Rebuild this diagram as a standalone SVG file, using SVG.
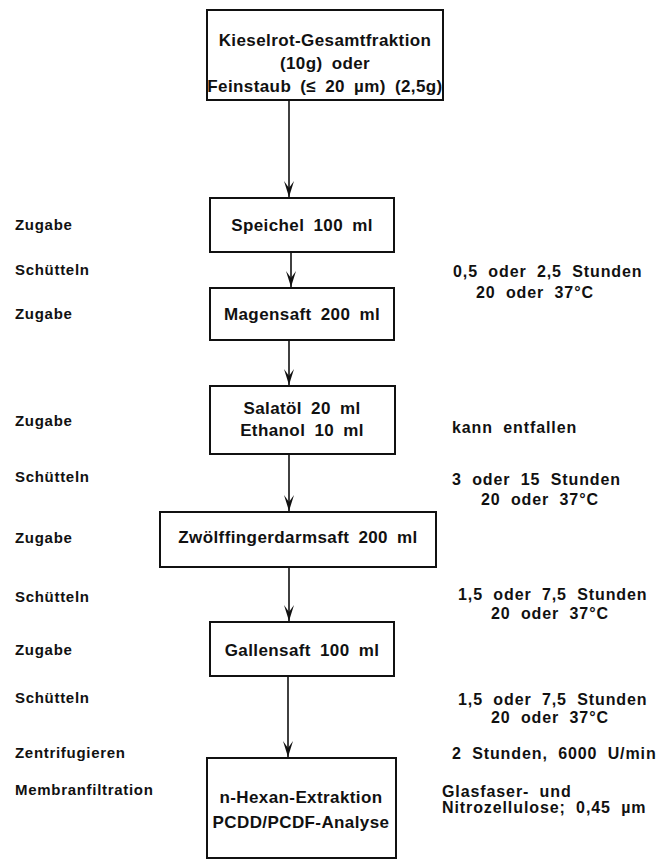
<svg xmlns="http://www.w3.org/2000/svg" width="667" height="861" viewBox="0 0 667 861">
<style>
  text { font-family: "Liberation Sans", Arial, sans-serif; font-weight: bold; fill: #111; }
  .lbl { font-size: 15px; letter-spacing: 0.7px; }
  .rt { font-size: 16px; letter-spacing: 0.9px; word-spacing: 5px; }
  .bx { font-size: 17px; letter-spacing: 0.4px; word-spacing: 4px; text-anchor: middle; }
  .box { fill: #fff; stroke: #111; stroke-width: 2; }
  .conn line { stroke: #111; stroke-width: 1.6; }
</style>
<defs>
  <marker id="ah" viewBox="-17 -6 18 12" refX="0" refY="0" markerWidth="18" markerHeight="12" markerUnits="userSpaceOnUse" orient="auto">
    <path d="M-16,-5 L0,0 L-16,5 L-9,0 Z" fill="#111"/>
  </marker>
</defs>
<rect width="667" height="861" fill="#fff"/>

<g id="n1">
  <rect class="box" x="207" y="10" width="236" height="90"/>
  <text class="bx" x="325" y="46">Kieselrot-Gesamtfraktion</text>
  <text class="bx" x="325" y="69">(10g) oder</text>
  <text class="bx" x="325" y="92">Feinstaub (≤ 20 µm) (2,5g)</text>
</g>
<g id="n2">
  <rect class="box" x="210" y="198" width="184" height="54"/>
  <text class="bx" x="302" y="231">Speichel 100 ml</text>
</g>
<g id="n3">
  <rect class="box" x="210" y="288" width="184" height="52"/>
  <text class="bx" x="302" y="320">Magensaft 200 ml</text>
</g>
<g id="n4">
  <rect class="box" x="210" y="386" width="185" height="68"/>
  <text class="bx" x="302" y="414">Salatöl 20 ml</text>
  <text class="bx" x="302" y="436">Ethanol 10 ml</text>
</g>
<g id="n5">
  <rect class="box" x="160" y="512" width="276" height="55"/>
  <text class="bx" x="298" y="543">Zwölffingerdarmsaft 200 ml</text>
</g>
<g id="n6">
  <rect class="box" x="210" y="622" width="184" height="54"/>
  <text class="bx" x="302" y="656">Gallensaft 100 ml</text>
</g>
<g id="n7">
  <rect class="box" x="207" y="758" width="189" height="100"/>
  <text class="bx" x="301" y="803">n-Hexan-Extraktion</text>
  <text class="bx" x="301" y="828">PCDD/PCDF-Analyse</text>
</g>

<g class="conn">
  <line x1="289" y1="100" x2="289" y2="197" marker-end="url(#ah)"/>
  <line x1="291" y1="252" x2="291" y2="287" marker-end="url(#ah)"/>
  <line x1="289" y1="340" x2="289" y2="385" marker-end="url(#ah)"/>
  <line x1="289" y1="454" x2="289" y2="511" marker-end="url(#ah)"/>
  <line x1="289" y1="567" x2="289" y2="621" marker-end="url(#ah)"/>
  <line x1="288" y1="676" x2="288" y2="757" marker-end="url(#ah)"/>
</g>

<g id="left">
  <text class="lbl" x="15" y="230">Zugabe</text>
  <text class="lbl" x="15" y="275">Schütteln</text>
  <text class="lbl" x="15" y="319">Zugabe</text>
  <text class="lbl" x="15" y="426">Zugabe</text>
  <text class="lbl" x="15" y="482">Schütteln</text>
  <text class="lbl" x="15" y="543">Zugabe</text>
  <text class="lbl" x="15" y="602">Schütteln</text>
  <text class="lbl" x="15" y="655">Zugabe</text>
  <text class="lbl" x="15" y="703">Schütteln</text>
  <text class="lbl" x="15" y="758">Zentrifugieren</text>
  <text class="lbl" x="15" y="795">Membranfiltration</text>
</g>

<g id="right">
  <text class="rt" x="453" y="277">0,5 oder 2,5 Stunden</text>
  <text class="rt" x="476" y="298">20 oder 37°C</text>
  <text class="rt" x="452" y="433">kann entfallen</text>
  <text class="rt" x="452" y="485">3 oder 15 Stunden</text>
  <text class="rt" x="481" y="505">20 oder 37°C</text>
  <text class="rt" x="458" y="600">1,5 oder 7,5 Stunden</text>
  <text class="rt" x="491" y="619">20 oder 37°C</text>
  <text class="rt" x="458" y="705">1,5 oder 7,5 Stunden</text>
  <text class="rt" x="491" y="723">20 oder 37°C</text>
  <text class="rt" x="452" y="759">2 Stunden, 6000 U/min</text>
  <text class="rt" x="442" y="797">Glasfaser- und</text>
  <text class="rt" x="442" y="813">Nitrozellulose; 0,45 µm</text>
</g>
</svg>
